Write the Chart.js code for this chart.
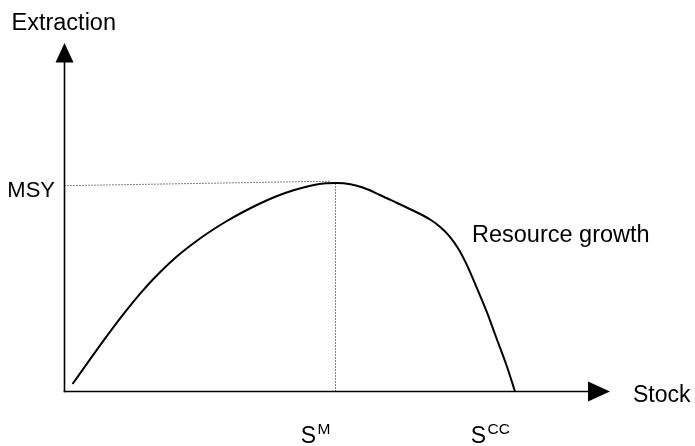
<!DOCTYPE html>
<html>
<head>
<meta charset="utf-8">
<script src="https://cdn.jsdelivr.net/npm/chart.js@4/dist/chart.umd.min.js"></script>
<style>
  html, body { margin: 0; padding: 0; background: #fff; }
  #wrap { width: 695px; height: 446px; position: relative; }
</style>
</head>
<body>
<div id="wrap"><canvas id="c" width="695" height="446"></canvas></div>
<script>
// Stock values (x) and extraction / resource growth values (y)
const stockValues = [8, 25.5, 42.5, 60.5, 78.5, 95.5, 112, 129, 146, 162, 179, 196, 212, 229, 246, 262, 272, 286, 299, 316, 332, 349, 366, 376, 385, 394, 402, 412, 422, 432, 442, 450.5];
const growthValues = [7.5, 32, 55.5, 79.2, 101, 119, 134.5, 148, 160, 170, 179.5, 188, 195, 201, 205.5, 208, 208.2, 207, 203.5, 196, 188.5, 180.5, 171.5, 164, 155, 142.4, 127.2, 104.2, 80.2, 53.2, 26.2, 0];
// Reference levels
const msyGuideX = [0, 266];
const msyGuideY = [205.5, 210];
const stockAtMSY = 271;
const carryingCapacity = 450.5;
const msyValue = 208;
// Axis limits
const xRange = [0, 545.5];
const yRange = [0, 348];
// Text labels
const yAxisTitle = 'Extraction';
const xAxisTitle = 'Stock';
const msyLabel = 'MSY';
const curveLabel = 'Resource growth';
const xTickLabels = [{ base: 'S', sup: 'M', value: stockAtMSY }, { base: 'S', sup: 'CC', value: carryingCapacity }];

const FONT = '"Liberation Sans", Arial, Helvetica, sans-serif';

const curveData = stockValues.map((x, i) => ({ x, y: growthValues[i] }));
const msyGuide = msyGuideX.map((x, i) => ({ x, y: msyGuideY[i] }));
const smGuide = [{ x: stockAtMSY, y: 0 }, { x: stockAtMSY, y: msyValue }];

const annotPlugin = {
  id: 'annot',
  beforeDatasetsDraw(chart) {
    const ctx = chart.ctx;
    const xs = chart.scales.x, ys = chart.scales.y;
    const x0 = xs.getPixelForValue(xRange[0]);
    const x1 = xs.getPixelForValue(xRange[1]);
    const y0 = ys.getPixelForValue(yRange[0]);
    const y1 = ys.getPixelForValue(yRange[1]);
    ctx.save();
    ctx.strokeStyle = '#000';
    ctx.fillStyle = '#000';
    ctx.lineWidth = 1.6;
    // y axis
    ctx.beginPath();
    ctx.moveTo(x0, y0 + 0.8);
    ctx.lineTo(x0, y1 + 15);
    ctx.stroke();
    ctx.beginPath();
    ctx.moveTo(x0, y1);
    ctx.lineTo(x0 - 9, y1 + 19.5);
    ctx.lineTo(x0 + 9, y1 + 19.5);
    ctx.closePath();
    ctx.fill();
    // x axis
    ctx.beginPath();
    ctx.moveTo(x0 - 0.8, y0);
    ctx.lineTo(x1 - 15, y0);
    ctx.stroke();
    ctx.beginPath();
    ctx.moveTo(x1, y0);
    ctx.lineTo(x1 - 22, y0 - 10);
    ctx.lineTo(x1 - 22, y0 + 10);
    ctx.closePath();
    ctx.fill();
    ctx.restore();
  },
  afterDraw(chart) {
    const ctx = chart.ctx;
    const xs = chart.scales.x, ys = chart.scales.y;
    const x0 = xs.getPixelForValue(xRange[0]);
    const x1 = xs.getPixelForValue(xRange[1]);
    const y0 = ys.getPixelForValue(yRange[0]);
    ctx.save();
    ctx.fillStyle = '#000';
    ctx.textBaseline = 'alphabetic';
    ctx.textAlign = 'left';
    ctx.font = '23.5px ' + FONT;
    ctx.fillText(yAxisTitle, 11.5, 30);
    ctx.fillText(curveLabel, 472, 241.5);
    ctx.font = '23px ' + FONT;
    ctx.fillText(xAxisTitle, x1 + 23, y0 + 10.5);
    ctx.textAlign = 'right';
    ctx.font = '22px ' + FONT;
    ctx.fillText(msyLabel, x0 - 9.5, ys.getPixelForValue(msyValue) + 14);
    // tick labels with superscripts
    xTickLabels.forEach(t => {
      const px = xs.getPixelForValue(t.value);
      ctx.font = '23px ' + FONT;
      const wb = ctx.measureText(t.base).width;
      ctx.font = '15.5px ' + FONT;
      const ws = ctx.measureText(t.sup).width;
      const right = px - 5;
      const left = right - ws - wb - 1.5;
      ctx.textAlign = 'left';
      ctx.font = '23px ' + FONT;
      ctx.fillText(t.base, left, 443);
      ctx.font = '15.5px ' + FONT;
      ctx.fillText(t.sup, left + wb + 1.5, 434);
    });
    ctx.restore();
  }
};

new Chart(document.getElementById('c'), {
  type: 'scatter',
  data: {
    datasets: [
      {
        data: curveData,
        showLine: true,
        borderColor: '#000',
        borderWidth: 2,
        pointRadius: 0,
        tension: 0.4,
        cubicInterpolationMode: 'monotone',
        fill: false
      },
      {
        data: msyGuide,
        showLine: true,
        borderColor: '#000',
        borderWidth: 1,
        borderDash: [1, 2],
        pointRadius: 0
      },
      {
        data: smGuide,
        showLine: true,
        borderColor: '#000',
        borderWidth: 1,
        borderDash: [1, 2],
        pointRadius: 0
      }
    ]
  },
  options: {
    responsive: false,
    animation: false,
    events: [],
    layout: { padding: { left: 64.5, right: 85, top: 43, bottom: 54.5 } },
    plugins: { legend: { display: false }, tooltip: { enabled: false } },
    scales: {
      x: { type: 'linear', display: false, min: xRange[0], max: xRange[1] },
      y: { type: 'linear', display: false, min: yRange[0], max: yRange[1] }
    }
  },
  plugins: [annotPlugin]
});
</script>
</body>
</html>
